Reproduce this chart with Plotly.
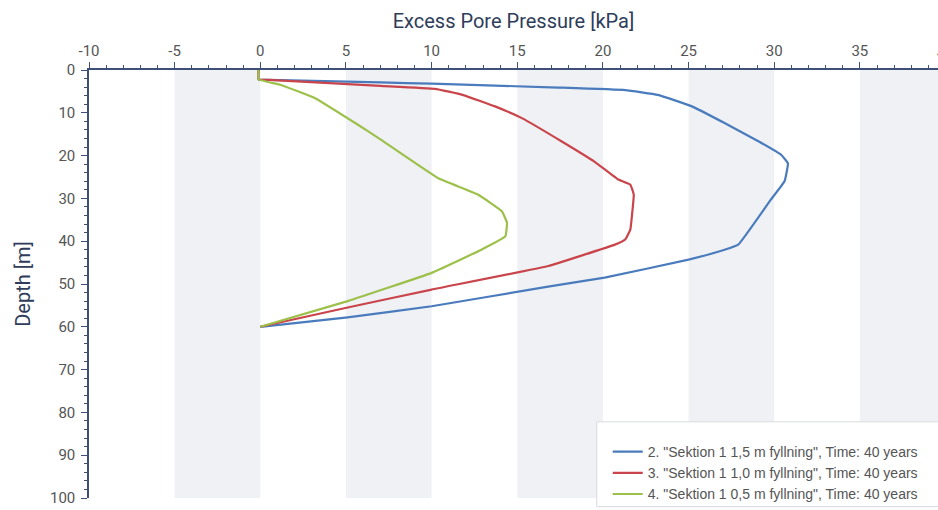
import plotly.graph_objects as go

# ---- data ----
blue_x = [-0.1, -0.1, 0.5, 7.0, 10.0, 17.4, 21.3, 23.2, 25.2, 27.1, 29.1, 30.4, 30.8, 30.6, 29.8, 27.9, 27.1, 25.0, 20.1, 16.8, 10.0, 5.1, 0]
blue_d = [0, 2.2, 2.3, 2.9, 3.2, 4.1, 4.7, 5.8, 8.5, 12.4, 16.7, 19.8, 21.8, 26.0, 30.3, 40.8, 42.0, 44.3, 48.5, 50.6, 55.2, 57.8, 60]

red_x = [-0.1, -0.1, 0.5, 7.0, 10.2, 11.8, 13.7, 15.3, 17.6, 19.5, 20.9, 21.6, 21.8, 21.7, 21.6, 21.3, 20.7, 16.8, 10.0, 5.1, 0]
red_d = [0, 2.2, 2.3, 3.7, 4.4, 5.8, 8.5, 11.3, 16.7, 21.4, 25.6, 26.8, 29.1, 33.8, 37.3, 39.6, 40.8, 45.8, 51.3, 55.5, 60]

green_x = [-0.1, -0.1, 1.2, 3.2, 5.7, 6.9, 10.4, 12.7, 14.1, 14.4, 14.3, 12.9, 10.0, 5.1, 0]
green_d = [0, 2.2, 3.5, 6.6, 12.8, 15.9, 25.3, 29.1, 33.0, 35.7, 38.9, 42.0, 47.4, 54.0, 60]

names = [
    '2. "Sektion 1 1,5 m fyllning", Time: 40 years',
    '3. "Sektion 1 1,0 m fyllning", Time: 40 years',
    '4. "Sektion 1 0,5 m fyllning", Time: 40 years',
]
colors = ["#4a7bbd", "#c9454b", "#9dc04a"]

band_starts = [-5, 5, 15, 25, 35]   # shaded 5 kPa bands
x_range = [-10, 39.56]
y_range = [100, 0]
x_ticks = [-10, -5, 0, 5, 10, 15, 20, 25, 30, 35, 40]
x_ticktext = ["-10", "-5", "0", "5", "10", "15", "20", "25", "30", "35", "40"]

axis_col = "#3e5078"
tick_col = "#555555"
title_col = "#2f3d5a"

fig = go.Figure()
for xs, ds, nm, c in zip([blue_x, red_x, green_x], [blue_d, red_d, green_d], names, colors):
    fig.add_trace(go.Scatter(x=xs, y=ds, mode="lines", name=nm,
                             line=dict(color=c, width=2.2, shape="spline", smoothing=0.3)))

for b in band_starts:
    fig.add_shape(type="rect", xref="x", yref="paper", x0=b, x1=b + 5, y0=0, y1=1,
                  fillcolor="#eff1f5", line_width=0, layer="below")

# legend frame
fig.add_shape(type="rect", xref="paper", yref="paper", x0=0.598, x1=1.02, y0=-0.02, y1=0.178,
              fillcolor="white", line=dict(color="#d8dbe0", width=1), layer="above")

# tick label "40" that is cut at the right edge of the picture
span = x_range[1] - x_range[0]
fig.add_annotation(x=(x_ticks[-1] - x_range[0]) / span, y=1, xref="paper", yref="paper",
                   text=x_ticktext[-1], showarrow=False, yanchor="bottom", xanchor="center",
                   yshift=6, font=dict(family="Roboto", size=15, color=tick_col))

fig.update_layout(
    width=938, height=510,
    margin=dict(l=89, r=0, t=70, b=11),
    paper_bgcolor="white", plot_bgcolor="white",
    font=dict(family="Roboto", color=tick_col),
    showlegend=True,
    legend=dict(x=0.611, y=0.058, xanchor="left", yanchor="middle",
                bgcolor="rgba(0,0,0,0)", borderwidth=0,
                font=dict(family="Liberation Sans", size=14, color="#555555"),
                tracegroupgap=0, itemwidth=30),
    xaxis=dict(side="top", range=x_range, tickvals=x_ticks, ticktext=x_ticktext,
               showgrid=False, zeroline=False,
               showline=True, linecolor=axis_col, linewidth=1.5,
               ticks="outside", ticklen=6, tickcolor=axis_col, tickwidth=1.2,
               minor=dict(dtick=1, ticks="outside", ticklen=3, tickcolor=axis_col, tickwidth=1),
               tickfont=dict(family="Roboto", size=15, color=tick_col),
               title=dict(text="Excess Pore Pressure [kPa]", standoff=8,
                          font=dict(family="Roboto", size=20, color=title_col))),
    yaxis=dict(range=y_range, dtick=10, showgrid=False, zeroline=False,
               showline=True, linecolor=axis_col, linewidth=1.5,
               ticks="outside", ticklen=6, tickcolor=axis_col, tickwidth=1.2,
               minor=dict(dtick=2, ticks="outside", ticklen=3, tickcolor=axis_col, tickwidth=1),
               tickfont=dict(family="Roboto", size=15, color=tick_col), ticklabelstandoff=3,
               title=dict(text="Depth [m]", standoff=14,
                          font=dict(family="Roboto", size=20, color=title_col))),
)

fig.write_html("out.html")
